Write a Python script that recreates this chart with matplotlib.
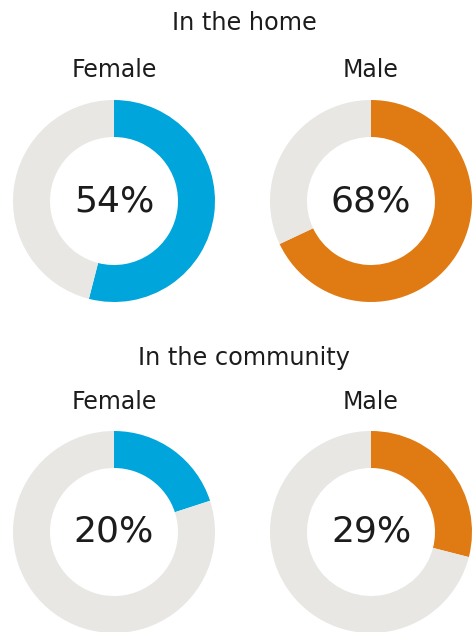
import matplotlib
matplotlib.use("Agg")
import matplotlib.pyplot as plt

# share of respondents, per setting and sex
settings = ["In the home", "In the community"]
sexes = ["Female", "Male"]
home_values = [54, 68]
community_values = [20, 29]

colours = {"Female": "#00a5db", "Male": "#e07b14"}
rest_colour = "#e8e7e4"
text_colour = "#1c1c1c"

fig = plt.figure(figsize=(4.72, 6.32), dpi=100)
ax = fig.add_axes([0, 0, 1, 1])

col_x = [114, 371]
row_y = [431, 100]
title_y = [609, 274]
label_y = [562, 230]
radius = 101
ring = 37

for r, (setting, values) in enumerate(zip(settings, [home_values, community_values])):
    ax.text(244, title_y[r], setting, ha="center", va="center",
            fontsize=17.3, color=text_colour)
    for c, (sex, v) in enumerate(zip(sexes, values)):
        ax.pie([v, 100 - v], colors=[colours[sex], rest_colour],
               center=(col_x[c], row_y[r]), radius=radius,
               startangle=90, counterclock=False, frame=True,
               wedgeprops=dict(width=ring, linewidth=0))
        ax.text(col_x[c], label_y[r], sex, ha="center", va="center",
                fontsize=17, color=text_colour)
        ax.text(col_x[c], row_y[r], f"{v}%", ha="center", va="center",
                fontsize=26, color=text_colour)

ax.set_xlim(0, 472)
ax.set_ylim(0, 632)
ax.set_aspect("auto")
ax.axis("off")

fig.savefig("out.png", dpi=100)
